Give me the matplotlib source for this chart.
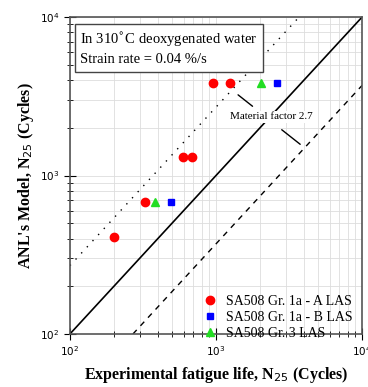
import numpy as np
import matplotlib.pyplot as plt

# data
a_exp = [200, 325, 597, 687, 955, 1245]
a_mod = [410, 680, 1310, 1310, 3840, 3840]
b_exp = [495, 2600]
b_mod = [680, 3840]
g3_exp = [380, 2040]
g3_mod = [680, 3840]
factor = 2.7

plt.rcParams['font.family'] = ['Liberation Serif', 'DejaVu Serif']

fig = plt.figure(figsize=(3.68, 3.87), dpi=100)
ax = fig.add_axes([0.190, 0.137, 0.794, 0.819])
ax.set_xscale('log')
ax.set_yscale('log')
ax.set_xlim(100, 1e4)
ax.set_ylim(100, 1e4)

ax.grid(True, which='both', color='#dddddd', lw=0.6)
ax.set_axisbelow(True)

xx = np.array([100, 1e4])
ax.plot(xx, xx, color='black', lw=1.2)
ax.plot([100, 1e4 / factor], [100 * factor, 1e4], color='black', lw=1.0, ls=(0, (1, 5)))
ax.plot([100 * factor, 1e4], [100, 1e4 / factor], color='black', lw=1.0, ls=(0, (4, 4)))

ax.plot(a_exp, a_mod, 'o', color='red', ms=6, label='SA508 Gr. 1a - A LAS')
ax.plot(b_exp, b_mod, 's', color='blue', ms=5, label='SA508 Gr. 1a - B LAS')
ax.plot(g3_exp, g3_mod, '^', color='#22dd22', ms=6, label='SA508 Gr. 3 LAS')

# material factor annotation
ax.text(2400, 2340, 'Material factor 2.7', fontsize=8, ha='center', va='center',
        bbox=dict(fc='white', ec='none', pad=1))
ax.annotate('', xy=(1368, 3310), xytext=(1840, 2667),
            arrowprops=dict(arrowstyle='-', color='black', lw=1.0))
ax.annotate('', xy=(3900, 1535), xytext=(2722, 1994),
            arrowprops=dict(arrowstyle='-', color='black', lw=1.0))

ax.text(0.035, 0.955, 'In 310$^{\\circ}$C deoxygenated water\nStrain rate = 0.04 %/s',
        transform=ax.transAxes, fontsize=10.5, va='top', ha='left', linespacing=1.35,
        bbox=dict(fc='white', ec='#444444', lw=1.0, pad=4))

leg = ax.legend(loc='lower right', bbox_to_anchor=(0.985, -0.035), frameon=False,
                fontsize=10, handletextpad=0.6, labelspacing=0.2, borderaxespad=0,
                handlelength=1.0)

for lab in ax.get_xticklabels() + ax.get_yticklabels():
    lab.set_family('DejaVu Sans')
ax.tick_params(which='both', direction='inout', top=False, right=False, labelsize=7.5)
ax.tick_params(which='major', length=8)
ax.tick_params(which='minor', length=5)
for s in ax.spines.values():
    s.set_color('#555555')
    s.set_linewidth(1.2)

ax.set_xlabel('Experimental fatigue life, N$_{25}$ (Cycles)', fontsize=11.5, fontweight='bold', labelpad=5)
ax.set_ylabel("ANL's Model, N$_{25}$ (Cycles)", fontsize=11.5, fontweight='bold', labelpad=3)

fig.savefig('out.png', dpi=100)
